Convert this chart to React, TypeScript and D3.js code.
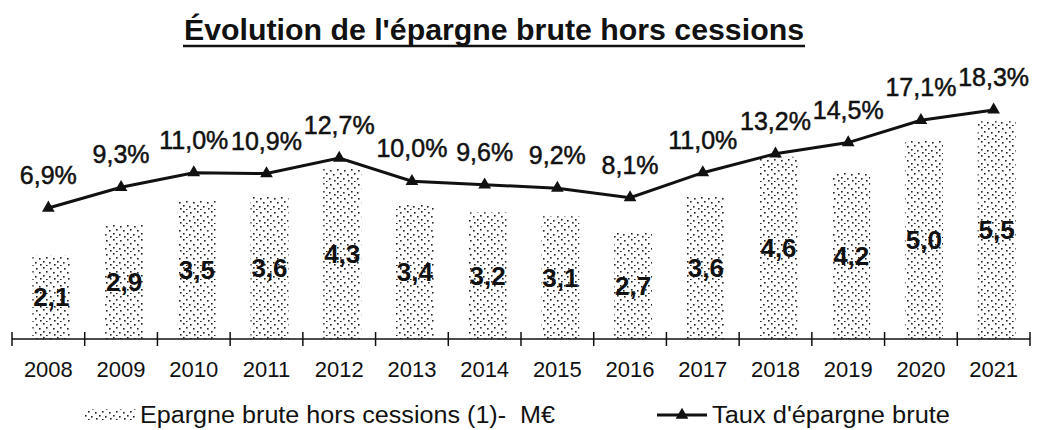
import React from "react";
import * as d3 from "d3";

const years = ["2008","2009","2010","2011","2012","2013","2014","2015","2016","2017","2018","2019","2020","2021"];
const epargne = [2.1, 2.9, 3.5, 3.6, 4.3, 3.4, 3.2, 3.1, 2.7, 3.6, 4.6, 4.2, 5.0, 5.5];
const taux = [6.9, 9.3, 11.0, 10.9, 12.7, 10.0, 9.6, 9.2, 8.1, 11.0, 13.2, 14.5, 17.1, 18.3];
const title = "Évolution de l'épargne brute hors cessions";
const legendBar = "Epargne brute hors cessions (1)-\u00a0\u00a0M€";
const legendLine = "Taux d'épargne brute";

const W = 1037, H = 430;
const FONT = "'Liberation Sans', Arial, sans-serif";
const fr = d3.formatLocale({ decimal: ",", thousands: " ", grouping: [3], currency: ["", "€"] });
const f1 = fr.format(".1f");

const dotTile: [number, number][] = [[1,1],[8,2],[4,5],[11,6],[1,9],[7,10],[12,12],[4,13]];

export default function App() {
  const x = d3.scaleBand<string>().domain(years).range([12, 1030]).paddingInner(0).paddingOuter(0);
  const yBar = d3.scaleLinear().domain([0, 6]).range([339, 339 - 6 * 39.6]);
  const yLine = d3.scaleLinear().domain([0, 20]).range([267.3, 267.3 - 20 * 8.6]);
  const bw = 38;
  const cx = (d: string) => (x(d) as number) + x.bandwidth() / 2;
  const line = d3.line<number>().x((_, i) => cx(years[i])).y(v => yLine(v));
  const tri = d3.symbol(d3.symbolTriangle, 70)() as string;
  const ticks = years.map(y => x(y) as number).concat([x.range()[1]]);

  return (
    <svg width={W} height={H} style={{ position: "absolute", left: 0, top: 0, background: "#fff" }} fontFamily={FONT}>
      <defs>
        <pattern id="dots" width={14} height={14} patternUnits="userSpaceOnUse">
          <rect width={14} height={14} fill="#fff" />
          {dotTile.map(([a, b], i) => <rect key={i} x={a} y={b} width={1.6} height={1.6} fill="#222" />)}
        </pattern>
      </defs>
      <rect width={W} height={H} fill="#fff" />
      <text x={494} y={40} textAnchor="middle" fontSize={30} fontWeight="bold" fill="#111" textLength={620} lengthAdjust="spacingAndGlyphs">{title}</text>
      <line x1={183} x2={805} y1={46} y2={46} stroke="#111" strokeWidth={2.5} />

      {years.map((y, i) => (
        <rect key={y} x={cx(y) - bw / 2 + 3} y={yBar(epargne[i])} width={bw} height={yBar(0) - yBar(epargne[i])} fill="url(#dots)" />
      ))}

      <line x1={x.range()[0]} x2={x.range()[1]} y1={339} y2={339} stroke="#111" strokeWidth={1.5} />
      {ticks.map((t, i) => <line key={i} x1={t} x2={t} y1={332} y2={346} stroke="#111" strokeWidth={1.5} />)}
      {years.map(y => (
        <text key={y} x={cx(y)} y={369} textAnchor="middle" dominantBaseline="central" fontSize={22} fill="#111">{y}</text>
      ))}

      {years.map((y, i) => (
        <text key={y} x={cx(y) + 3} y={(yBar(epargne[i]) + yBar(0)) / 2} textAnchor="middle" dominantBaseline="central"
          fontSize={26} fontWeight="bold" fill="#111">{f1(epargne[i])}</text>
      ))}

      <path d={line(taux) as string} fill="none" stroke="#111" strokeWidth={3} />
      {years.map((y, i) => (
        <path key={y} d={tri} transform={`translate(${cx(y)},${yLine(taux[i])})`} fill="#111" />
      ))}
      {years.map((y, i) => (
        <text key={y} x={cx(y)} y={yLine(taux[i]) - 33} textAnchor="middle" dominantBaseline="central"
          fontSize={25} fill="#111" stroke="#111" strokeWidth={0.5}>{f1(taux[i]) + "%"}</text>
      ))}

      <rect x={85} y={409} width={52} height={11} fill="url(#dots)" />
      <text x={140} y={415} dominantBaseline="central" fontSize={23} fill="#111" textLength={415} lengthAdjust="spacingAndGlyphs">{legendBar}</text>
      <line x1={657} x2={707} y1={415} y2={415} stroke="#111" strokeWidth={3} />
      <path d={tri} transform="translate(682,415)" fill="#111" />
      <text x={712} y={415} dominantBaseline="central" fontSize={23} fill="#111" textLength={238} lengthAdjust="spacingAndGlyphs">{legendLine}</text>
    </svg>
  );
}
